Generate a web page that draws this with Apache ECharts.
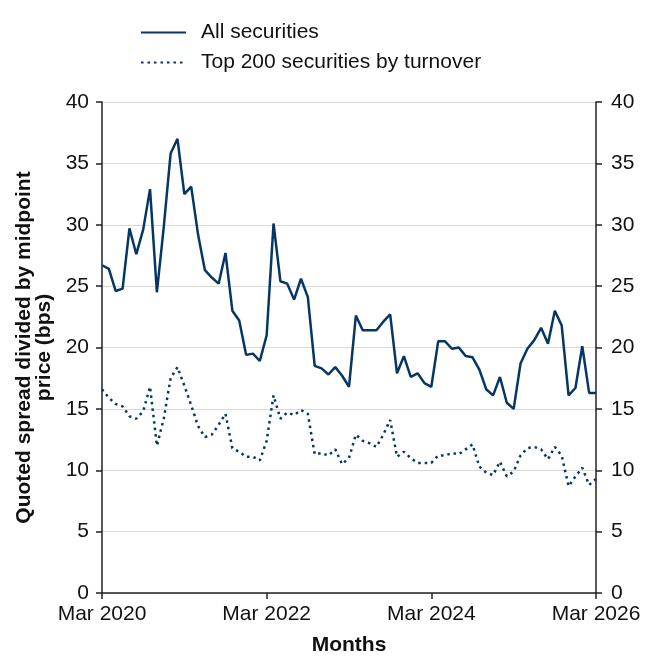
<!DOCTYPE html>
<html lang="en">
<head>
    <meta charset="UTF-8">
    <title>Quoted spread</title>
    <style>
        html, body { margin: 0; padding: 0; background: #fff; }
    </style>
</head>
<body>
    <div id="chart" style="width: 655px;height:669px;"></div>
    <script src="https://cdn.jsdelivr.net/npm/echarts@6/dist/echarts.min.js"></script>
    <script type="text/javascript">
       // monthly observations, Mar 2020 .. Mar 2026
       var monthNames = ['Jan', 'Feb', 'Mar', 'Apr', 'May', 'Jun', 'Jul', 'Aug', 'Sep', 'Oct', 'Nov', 'Dec'];
       var tickLabels = ['Mar 2020', 'Mar 2022', 'Mar 2024', 'Mar 2026'];
       var months = [];
       for (var y = 2020; y <= 2026; y++) {
           for (var m = 0; m < 12; m++) {
               if ((y === 2020 && m < 2) || (y === 2026 && m > 2)) continue;
               months.push(monthNames[m] + ' ' + y);
           }
       }

       var allSecurities = [
           26.7, 26.4, 24.6, 24.8, 29.7, 27.6, 29.6, 32.9, 24.5, 29.8, 35.8, 37.0,
           32.5, 33.1, 29.2, 26.3, 25.7, 25.2, 27.7, 23.0, 22.2, 19.4, 19.5, 18.9,
           21.0, 30.1, 25.4, 25.2, 23.9, 25.6, 24.1, 18.5, 18.3, 17.8, 18.4, 17.7,
           16.8, 22.6, 21.4, 21.4, 21.4, 22.1, 22.7, 17.9, 19.3, 17.6, 17.9, 17.1,
           16.8, 20.5, 20.5, 19.9, 20.0, 19.3, 19.2, 18.2, 16.6, 16.1, 17.6, 15.5,
           15.0, 18.7, 19.9, 20.6, 21.6, 20.3, 23.0, 21.8, 16.1, 16.7, 20.1, 16.3,
           16.3
       ];
       var top200 = [
           16.6, 15.9, 15.4, 15.2, 14.4, 14.2, 14.8, 16.8, 12.0, 14.2, 17.5, 18.4,
           16.9, 15.3, 13.6, 12.7, 12.9, 13.7, 14.6, 11.8, 11.5, 11.1, 11.1, 10.8,
           12.4, 16.1, 14.2, 14.7, 14.5, 14.9, 14.6, 11.3, 11.4, 11.2, 11.7, 10.5,
           11.0, 12.9, 12.4, 12.2, 11.9, 12.9, 14.1, 11.1, 11.5, 11.0, 10.6, 10.6,
           10.6, 11.2, 11.2, 11.4, 11.3, 11.7, 12.1, 10.3, 9.8, 9.6, 10.7, 9.5,
           9.9, 11.2, 11.8, 11.9, 11.7, 10.9, 11.9, 11.2, 8.7, 9.5, 10.2, 8.8,
           9.3
       ];

       var navy = '#063663';
       var font = 'Liberation Sans, Arial, sans-serif';
       var axisColor = '#222';
       var fs = 21;

       var myChart = echarts.init(document.getElementById('chart'));

       function yAxis(pos, margin) {
           return {
               type: 'value',
               position: pos,
               min: 0,
               max: 40,
               interval: 5,
               axisLine: { show: true, lineStyle: { color: axisColor, width: 1.5 } },
               axisTick: { show: true, length: 6, lineStyle: { color: axisColor, width: 1.5 } },
               axisLabel: { color: '#111', fontSize: fs, fontFamily: font, margin: margin },
               splitLine: { show: pos === 'left', lineStyle: { color: '#d9d9d9', width: 1 } }
           };
       }

       var left = yAxis('left', 13);
       left.name = 'Quoted spread divided by midpoint\nprice (bps)';
       left.nameLocation = 'middle';
       left.nameGap = 47;
       left.nameTextStyle = { color: '#111', fontSize: fs, fontWeight: 'bold', fontFamily: font, lineHeight: 20 };

       var option = {
           animation: false,
           textStyle: { fontFamily: font },
           grid: { left: 102, right: 59, top: 102, bottom: 76, containLabel: false, outerBoundsMode: 'none' },
           legend: {
               orient: 'vertical',
               left: 135,
               top: 17,
               itemWidth: 45,
               itemHeight: 12,
               itemGap: 9,
               itemStyle: { opacity: 0 },
               textStyle: { color: '#111', fontSize: fs, fontFamily: font, padding: [0, 0, 0, 10] },
               data: ['All securities', 'Top 200 securities by turnover']
           },
           xAxis: {
               type: 'category',
               data: months,
               boundaryGap: false,
               name: 'Months',
               nameLocation: 'middle',
               nameGap: 42,
               nameTextStyle: { color: '#111', fontSize: fs, fontWeight: 'bold', fontFamily: font },
               axisLine: { lineStyle: { color: axisColor, width: 1.5 } },
               axisTick: {
                   length: 6,
                   lineStyle: { color: axisColor, width: 1.5 },
                   interval: function (i, v) { return tickLabels.indexOf(v) >= 0; }
               },
               axisLabel: {
                   color: '#111',
                   fontSize: fs,
                   fontFamily: font,
                   margin: 11,
                   interval: function (i, v) { return tickLabels.indexOf(v) >= 0; }
               },
               splitLine: { show: false }
           },
           yAxis: [left, yAxis('right', 15)],
           series: [
               {
                   name: 'All securities',
                   type: 'line',
                   data: allSecurities,
                   symbol: 'none',
                   lineStyle: { color: navy, width: 2.5 },
                   itemStyle: { color: navy }
               },
               {
                   name: 'Top 200 securities by turnover',
                   type: 'line',
                   data: top200,
                   symbol: 'none',
                   lineStyle: { color: navy, width: 2.5, type: [2.5, 4] },
                   itemStyle: { color: navy }
               }
           ]
       };
       myChart.setOption(option);
    </script>
</body>
</html>
